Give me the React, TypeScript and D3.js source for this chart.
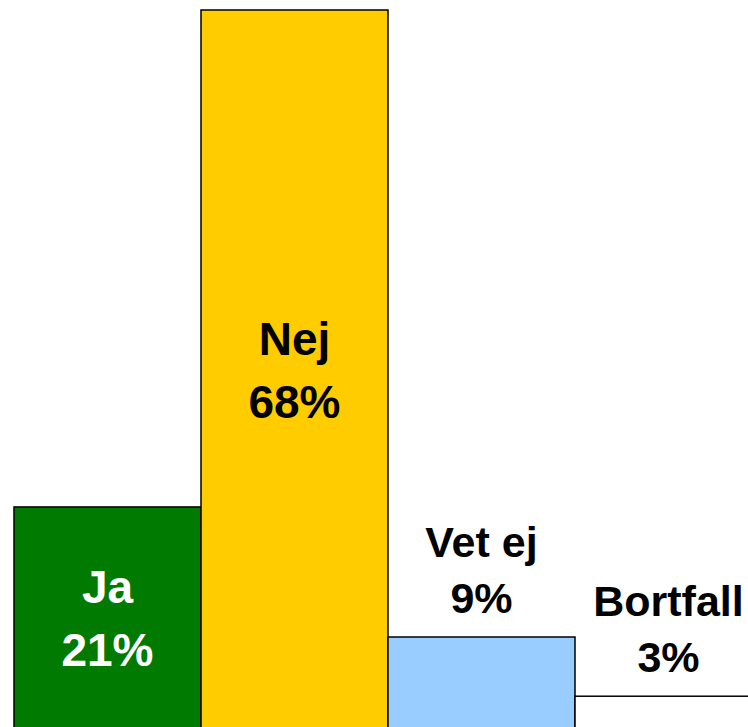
import React from "react";
import * as d3 from "d3";

const categories = ["Ja", "Nej", "Vet ej", "Bortfall"];
const values = [21, 68, 8.7, 3.1];
const labels = ["21%", "68%", "9%", "3%"];
const fills = ["#007A00", "#FFCC00", "#99CCFF", "#FFFFFF"];
const textColors = ["#FFFFFF", "#000000", "#000000", "#000000"];
const inside = [true, true, false, false];

const W = 748;
const H = 727;

export default function App() {
  const x = d3.scaleBand<string>().domain(categories).range([14, 762]).padding(0);
  const y = d3.scaleLinear().domain([0, 68]).range([729, 10]);
  const font = "'Liberation Sans', Arial, Helvetica, sans-serif";

  return (
    <svg
      width={W}
      height={H}
      style={{ position: "absolute", left: 0, top: 0, background: "#fff" }}
    >
      {categories.map((c, i) => {
        const x0 = x(c)!;
        const bw = x.bandwidth();
        const top = y(values[i]);
        const cx = x0 + bw / 2;
        let b1: number, b2: number, fs: number;
        if (inside[i]) {
          const mid = (top + y(0)) / 2;
          b1 = mid - 15;
          b2 = mid + 48;
          fs = 46;
        } else {
          b2 = top - 24;
          b1 = b2 - 56;
          fs = 43;
        }
        return (
          <g key={c}>
            <rect
              x={x0}
              y={top}
              width={bw}
              height={y(0) - top}
              fill={fills[i]}
              stroke="#000"
              strokeWidth={1.5}
            />
            <text
              x={cx}
              y={b1}
              textAnchor="middle"
              fontFamily={font}
              fontWeight="bold"
              fontSize={fs}
              fill={textColors[i]}
            >
              {c}
            </text>
            <text
              x={cx}
              y={b2}
              textAnchor="middle"
              fontFamily={font}
              fontWeight="bold"
              fontSize={fs}
              fill={textColors[i]}
            >
              {labels[i]}
            </text>
          </g>
        );
      })}
    </svg>
  );
}
